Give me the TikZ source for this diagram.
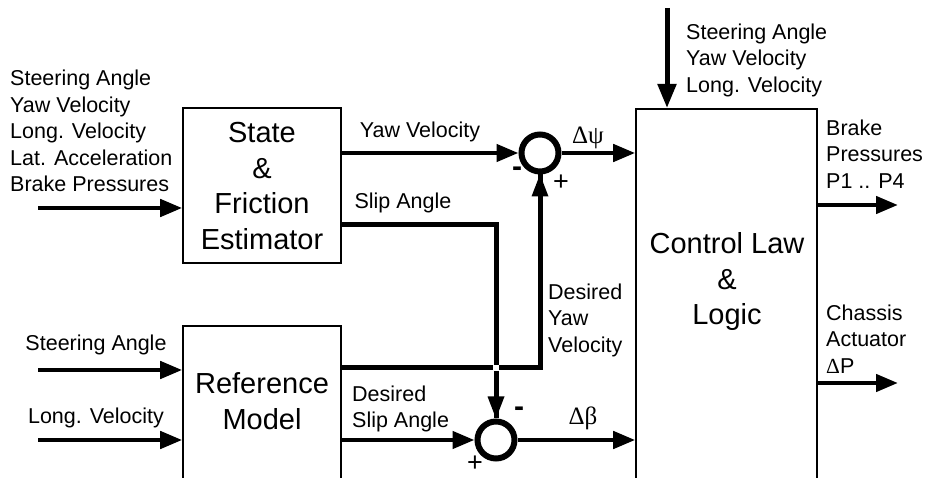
\documentclass[tikz,border=0pt]{standalone}
\usepackage{fontspec}
\setmainfont{Liberation Sans}
\newfontfamily\greekfont{Liberation Serif}
\usetikzlibrary{arrows.meta}
\begin{document}
\begin{tikzpicture}[x=1pt, y=-1pt,
    blk/.style={draw, line width=1.6pt, minimum width=158pt, inner sep=0pt},
    blktxt/.style={font=\fontsize{29}{35.5}\selectfont, align=center, inner sep=0pt},
    lbl/.style={font=\fontsize{21.5}{26.5}\selectfont, inner sep=0pt},
    sym/.style={font=\greekfont\fontsize{25}{28}\selectfont, inner sep=0pt},
    plus/.style={font=\fontsize{27}{28}\selectfont, inner sep=0pt},
    minus/.style={font=\bfseries\fontsize{30}{30}\selectfont, inner sep=0pt},
    sumc/.style={draw, circle, line width=6pt, minimum size=37pt, inner sep=0pt},
    sig/.style={line width=4.5pt, -{Triangle[length=22pt, width=17pt]}},
    feed/.style={line width=5pt}]
    \useasboundingbox (0, 0) rectangle (927, 478);
    \clip (0, 0) rectangle (927, 478);
    % blocks
    \node[blk, minimum height=155pt] (sfe) at (262, 185.5) {};
    \node[blktxt] at (262, 186) {State\\\&\\Friction\\Estimator};
    \node[blk, minimum height=180pt, anchor=north] (ref) at (262, 325) {};
    \node[blktxt] at (262, 401) {Reference\\Model};
    \node[blk, minimum width=181pt, minimum height=400pt, anchor=north] (cll) at (726.5, 108) {};
    \node[blktxt] at (727, 282) {Control Law\\\&\\Logic};
    % summing points
    \node[sumc] (sy) at (540, 153) {};
    \node[sumc] (sb) at (496, 440) {};
    % free ends
    \coordinate (in1) at (38, 208);
    \coordinate (in2) at (38, 370);
    \coordinate (in3) at (38, 440);
    \coordinate (top) at (667, 8);
    \coordinate (out1) at (898, 205);
    \coordinate (out2) at (898, 383);
    \coordinate (slip) at (341, 225);
    \coordinate (dyaw) at (341, 368);
    % inputs
    \draw[sig] (in1) -- (in1 -| sfe.west);
    \draw[sig] (in2) -- (in2 -| ref.west);
    \draw[sig] (in3) -- (in3 -| ref.west);
    \draw[line width=5pt, -{Triangle[length=24pt, width=18pt]}] (top) -- (top |- cll.north);
    % estimator outputs
    \draw[sig] (sy -| sfe.east) -- (sy);
    \draw[feed] (slip) -| (sb.north);
    \draw[sig, line width=0pt] (sb.north) ++(0, -26) -- (sb.north);
    % reference model outputs
    \draw[feed] (dyaw) -| (sy.south);
    \draw[sig, line width=0pt] (sy.south) ++(0, 26) -- (sy.south);
    \fill[white] (496, 368) ++(-3, -3) rectangle ++(6, 6);
    \draw[sig] (sb -| ref.east) -- (sb);
    % errors to control law
    \draw[sig] (sy) -- (sy -| cll.west);
    \draw[sig] (sb) -- (sb -| cll.west);
    % outputs
    \draw[sig] (out1 -| cll.east) -- (out1);
    \draw[sig] (out2 -| cll.east) -- (out2);
    % labels
    \node[lbl, align=left, anchor=west] at (10, 131) {Steering Angle\\Yaw Velocity\\Long. Velocity\\Lat. Acceleration\\Brake Pressures};
    \node[lbl] at (96, 345) {Steering Angle};
    \node[lbl] at (96, 418) {Long. Velocity};
    \node[lbl] at (420, 132) {Yaw Velocity};
    \node[lbl] at (403, 203) {Slip Angle};
    \node[lbl, align=left, anchor=west] at (352, 409) {Desired\\Slip Angle};
    \node[lbl, align=left, anchor=west] at (548, 320) {Desired\\Yaw\\Velocity};
    \node[lbl, align=left, anchor=west] at (686, 60) {Steering Angle\\Yaw Velocity\\Long. Velocity};
    \node[lbl, align=left, anchor=west] at (826, 154) {Brake\\Pressures\\P1 .. P4};
    \node[lbl, align=left, anchor=west] at (826, 339) {Chassis\\Actuator\\{\greekfont Δ}P};
    \node[sym] at (588, 138) {Δψ};
    \node[sym] at (583, 418) {Δβ};
    % signs
    \node[minus] at (517, 172) {-};
    \node[plus] at (561, 183) {+};
    \node[minus] at (519, 412) {-};
    \node[plus] at (475, 464) {+};
\end{tikzpicture}
\end{document}
